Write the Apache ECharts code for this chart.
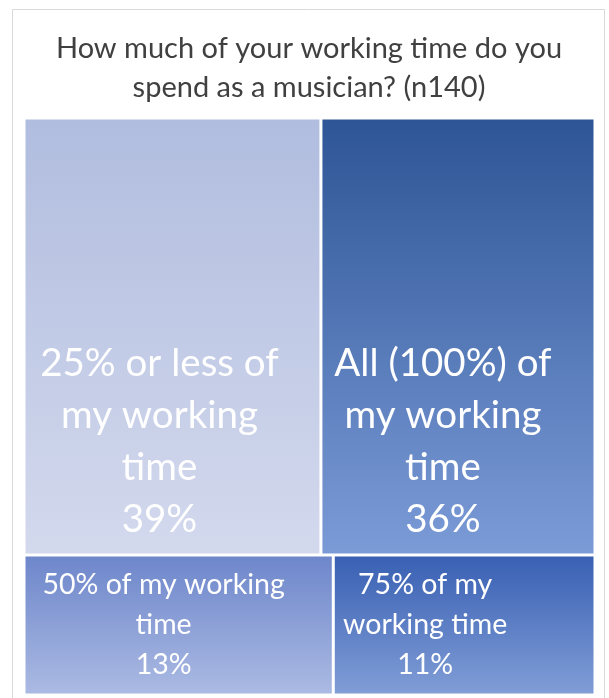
<!DOCTYPE html>
<html>
<head>
<meta charset="utf-8">
<script src="https://cdn.jsdelivr.net/npm/echarts@6/dist/echarts.min.js"></script>
<style>
  html, body { margin: 0; padding: 0; background: #ffffff; }
  #chart { width: 609px; height: 698px; }
</style>
</head>
<body>
<div id="chart"></div>
<script>
// Share of working time spent as a musician (n = 140)
const chartTitle = 'How much of your working time do you\nspend as a musician? (n140)';
const categories = [
  '25% or less of my working time',
  'All (100%) of my working time',
  '50% of my working time',
  '75% of my working time'
];
const shares = [39, 36, 13, 11];
// Wrapped label lines for each tile
const labelLines = [
  '25% or less of\nmy working\ntime',
  'All (100%) of\nmy working\ntime',
  '50% of my working\ntime',
  '75% of my\nworking time'
];
// Vertical gradient (top, bottom) per tile
const tileColors = [
  ['#b1bddf', '#d3d9ed'],
  ['#2e5596', '#7b9bd7'],
  ['#6e87cb', '#abbae3'],
  ['#3960b3', '#809dd6']
];
// Horizontal nudge of each tile's text block (text sits toward the left edge)
const labelShiftX = [-13, -15, -15, -39];

const FONT = 'Lato, "Open Sans", sans-serif';
const chart = echarts.init(document.getElementById('chart'), null, { renderer: 'canvas' });

// Large tiles carry their text near the bottom edge, small tiles centre it.
function tileLabel(i) {
  if (shares[i] >= 20) {
    return { position: 'insideBottom', distance: 3, offset: [labelShiftX[i], 0],
             fontSize: 38.5, lineHeight: 52 };
  }
  return { position: 'inside', offset: [labelShiftX[i], 0], fontSize: 28.5, lineHeight: 40 };
}

const data = categories.map((name, i) => ({
  name: name,
  value: shares[i],
  itemStyle: {
    color: new echarts.graphic.LinearGradient(0, 0, 0, 1, [
      { offset: 0, color: tileColors[i][0] },
      { offset: 1, color: tileColors[i][1] }
    ])
  },
  label: tileLabel(i)
}));

chart.setOption({
  backgroundColor: '#ffffff',
  graphic: [
    {
      // frame around the whole chart
      type: 'rect',
      shape: { x: 12.5, y: 9.5, width: 592, height: 700 },
      style: { fill: null, stroke: '#d9d9d9', lineWidth: 1 },
      silent: true,
      z: -1
    },
    {
      // chart title, centred on the frame
      type: 'text',
      x: 309,
      y: 29,
      silent: true,
      style: {
        text: chartTitle,
        align: 'center',
        verticalAlign: 'top',
        fontFamily: FONT,
        fontSize: 29,
        lineHeight: 39,
        fill: '#404040'
      }
    }
  ],
  series: [{
    type: 'treemap',
    left: 25.5,
    top: 119.5,
    width: 568,
    height: 574,
    roam: false,
    nodeClick: false,
    breadcrumb: { show: false },
    animation: false,
    itemStyle: { borderWidth: 0, gapWidth: 3, borderColor: '#ffffff' },
    label: {
      show: true,
      color: '#ffffff',
      fontFamily: FONT,
      align: 'center',
      overflow: 'none',
      formatter: p => labelLines[categories.indexOf(p.name)] + '\n' + p.value + '%'
    },
    data: data
  }]
});
</script>
</body>
</html>
